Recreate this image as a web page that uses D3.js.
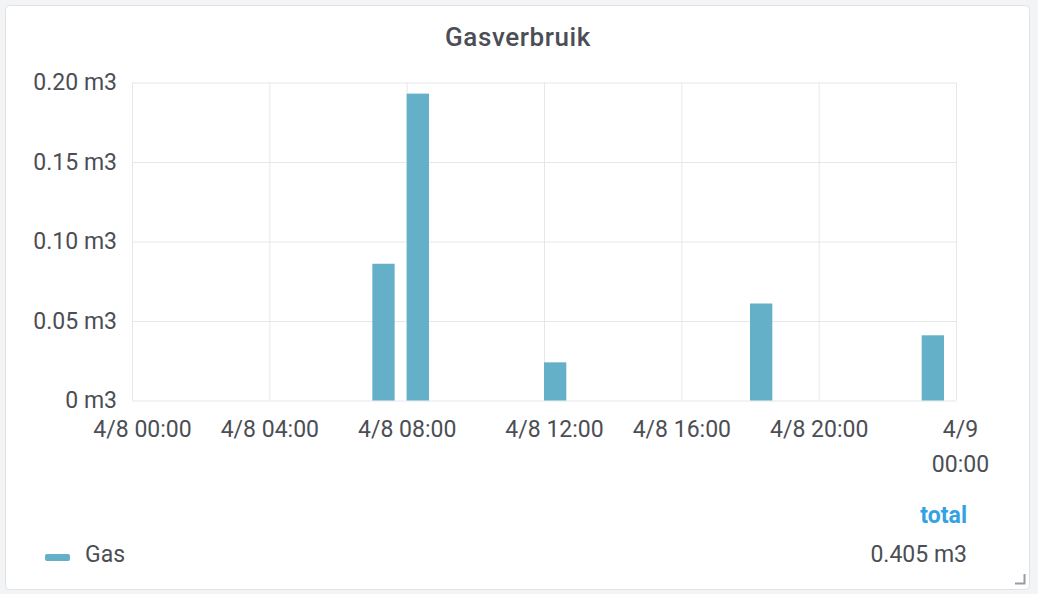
<!DOCTYPE html>
<html>
<head>
<meta charset="utf-8">
<title>Gasverbruik</title>
<script src="https://cdn.jsdelivr.net/npm/d3@7"></script>
<style>
  html, body { margin: 0; padding: 0; background: #f3f4f6; }
  svg { display: block; font-family: Roboto, "Helvetica Neue", Arial, sans-serif; }
</style>
</head>
<body>
<div id="chart"></div>
<script>
// Gas usage per hour, single day (Grafana-style bar panel)
const title = 'Gasverbruik';
const seriesName = 'Gas';
const unit = 'm3';
const dayStart = '2020-04-08 00:00';
const dayEnd = '2020-04-09 00:00';
const barTimes = ['2020-04-08 07:00', '2020-04-08 08:00', '2020-04-08 12:00', '2020-04-08 18:00', '2020-04-08 23:00'];
const gasValues = [0.086, 0.193, 0.024, 0.061, 0.041];
const yTicks = [0, 0.05, 0.10, 0.15, 0.20];

const W = 1038, H = 594;
const margin = { left: 132, right: 82, top: 82.5, bottom: 193.5 };
const barColor = '#64b0c8';
const textColor = '#4b4e55';
const gridColor = '#e6e7e9';

const parse = d3.utcParse('%Y-%m-%d %H:%M');
const data = barTimes.map((t, i) => ({ t: parse(t), v: gasValues[i] }));

const svg = d3.select('#chart').append('svg')
  .attr('width', W)
  .attr('height', H);

// panel
svg.append('rect')
  .attr('x', 5.5).attr('y', 5.5)
  .attr('width', 1024).attr('height', 584)
  .attr('rx', 4)
  .attr('fill', '#fff')
  .attr('stroke', '#dfe1e5');

svg.append('text')
  .attr('x', 518).attr('y', 46)
  .attr('text-anchor', 'middle')
  .attr('font-size', 26)
  .attr('font-weight', 500)
  .attr('letter-spacing', 0.6)
  .attr('fill', textColor)
  .text(title);

const x = d3.scaleUtc()
  .domain([parse(dayStart), parse(dayEnd)])
  .range([margin.left, W - margin.right]);
const y = d3.scaleLinear()
  .domain([0, 0.2])
  .range([H - margin.bottom, margin.top]);

const plotW = x.range()[1] - x.range()[0];
const plotH = y.range()[0] - y.range()[1];

// y axis + horizontal grid
const yAxis = svg.append('g')
  .attr('transform', `translate(${margin.left},0)`)
  .call(d3.axisLeft(y)
    .tickValues(yTicks)
    .tickSize(-plotW)
    .tickPadding(15)
    .tickFormat(d => (d === 0 ? '0' : d3.format('.2f')(d)) + ' ' + unit));
yAxis.select('.domain').remove();

// x axis + vertical grid
const xTicks = x.ticks(d3.utcHour.every(4));
const fmt = d3.utcFormat('%-m/%-d %H:%M');
const xAxis = svg.append('g')
  .attr('transform', `translate(0,${y(0)})`)
  .call(d3.axisBottom(x)
    .tickValues(xTicks)
    .tickSize(-plotH)
    .tickPadding(20)
    .tickFormat(fmt));
xAxis.select('.domain').remove();

// label nudges seen in the original (first, noon and last labels sit right of their line)
const labelShift = { 0: 10, 12: 10, 24: 4 };
xAxis.selectAll('.tick text')
  .attr('dx', d => {
    const h = Math.round((d - x.domain()[0]) / 36e5);
    return labelShift[h] || 0;
  });

// last label wraps onto two lines like the original
xAxis.selectAll('.tick text')
  .filter(d => +d === +x.domain()[1])
  .each(function(d) {
    const parts = fmt(d).split(' ');
    const t = d3.select(this).text(null);
    t.append('tspan').attr('x', 0).attr('dx', 4).text(parts[0]);
    t.append('tspan').attr('x', 0).attr('dx', 4).attr('dy', '1.55em').text(parts[1]);
  });

svg.selectAll('.tick line')
  .attr('stroke', gridColor)
  .attr('stroke-width', 1);
svg.selectAll('.tick text')
  .attr('fill', textColor)
  .attr('font-size', 23)
  .attr('font-family', 'Roboto, "Helvetica Neue", Arial, sans-serif');

// bars
const barMinutes = 39;
svg.append('g')
  .selectAll('rect')
  .data(data)
  .join('rect')
  .attr('x', d => x(d.t))
  .attr('width', d => x(d3.utcMinute.offset(d.t, barMinutes)) - x(d.t))
  .attr('y', d => y(d.v))
  .attr('height', d => y(0) - y(d.v))
  .attr('fill', barColor);

// legend
const legend = svg.append('g');
legend.append('rect')
  .attr('x', 45).attr('y', 554)
  .attr('width', 25).attr('height', 7)
  .attr('rx', 2)
  .attr('fill', barColor);
legend.append('text')
  .attr('x', 85).attr('y', 562)
  .attr('font-size', 23)
  .attr('fill', textColor)
  .text(seriesName);
legend.append('text')
  .attr('x', 967).attr('y', 523)
  .attr('text-anchor', 'end')
  .attr('font-size', 23)
  .attr('font-weight', 700)
  .attr('fill', '#33a2e5')
  .text('total');
legend.append('text')
  .attr('x', 967).attr('y', 562)
  .attr('text-anchor', 'end')
  .attr('font-size', 23)
  .attr('fill', textColor)
  .text(d3.format('.3f')(d3.sum(gasValues)) + ' ' + unit);

// resize handle
svg.append('path')
  .attr('d', 'M1024.5,574 V583.5 H1015')
  .attr('fill', 'none')
  .attr('stroke', '#9a9ca0')
  .attr('stroke-width', 2);
</script>
</body>
</html>
